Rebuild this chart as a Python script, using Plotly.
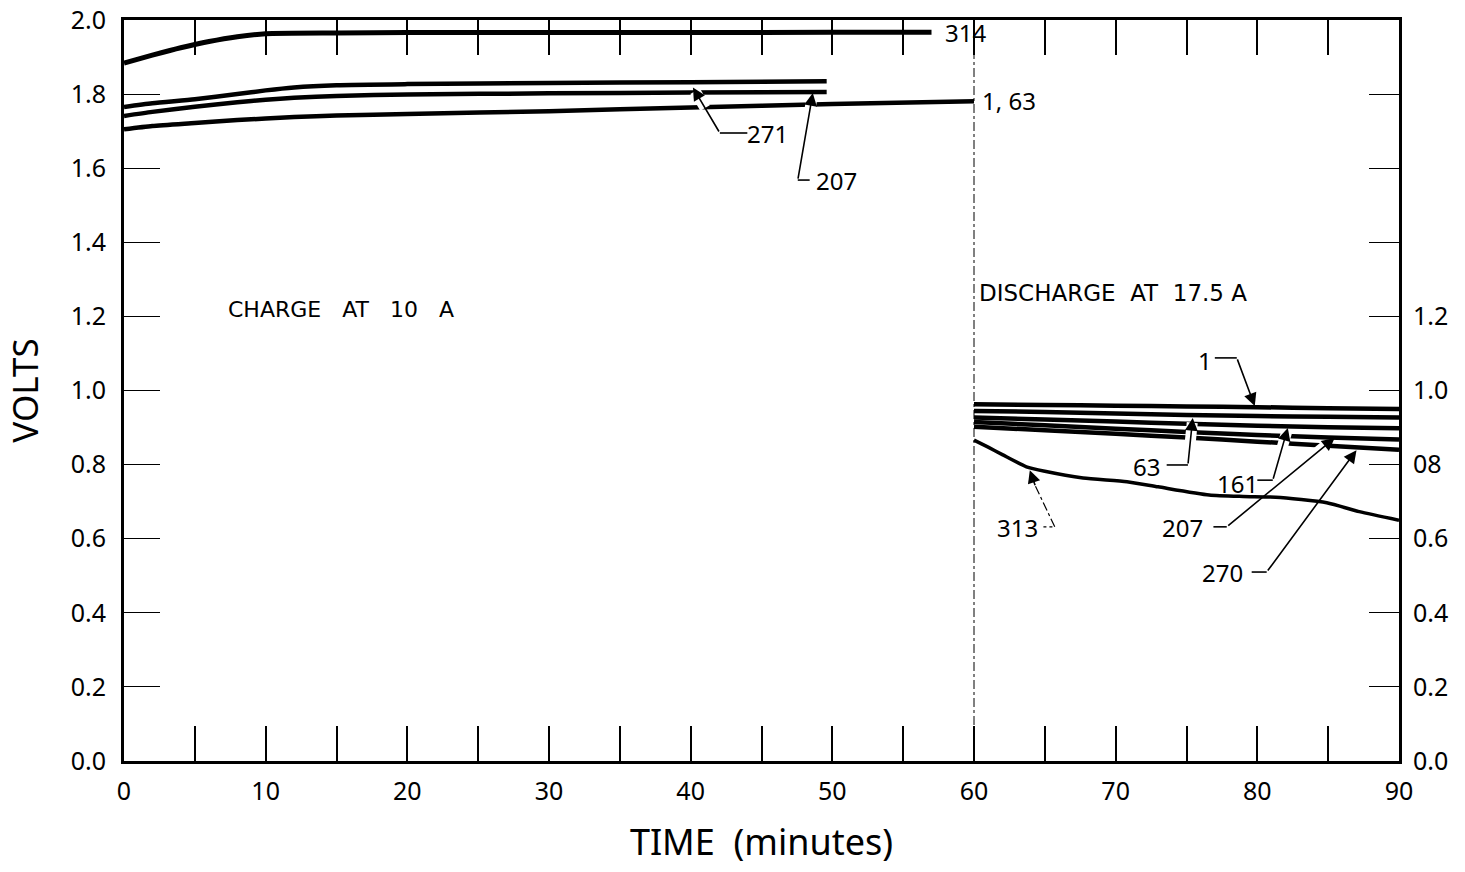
import plotly.graph_objects as go

# ---- Charge at 10 A (minutes, volts) ----
t_314 = [0, 2, 4, 6, 8, 10, 15, 20, 30, 40, 50, 57]
v_314 = [1.884, 1.905, 1.925, 1.942, 1.955, 1.963, 1.965, 1.966, 1.966, 1.966, 1.967, 1.967]

t_271 = [0, 2, 5, 8, 10, 12, 15, 20, 30, 40, 49.6]
v_271 = [1.765, 1.775, 1.786, 1.800, 1.810, 1.818, 1.824, 1.827, 1.830, 1.832, 1.835]

t_207c = [0, 2, 5, 8, 10, 12, 15, 20, 30, 40, 49.6]
v_207c = [1.741, 1.752, 1.766, 1.778, 1.785, 1.790, 1.795, 1.799, 1.802, 1.804, 1.806]

t_1_63 = [0, 2, 5, 8, 10, 12, 15, 20, 30, 40, 50, 60]
v_1_63 = [1.705, 1.714, 1.722, 1.730, 1.734, 1.738, 1.742, 1.746, 1.754, 1.764, 1.773, 1.781]

# ---- Discharge at 17.5 A ----
t_dis = [60, 65, 70, 75, 80, 85, 90]
v_1 = [0.963, 0.961, 0.959, 0.957, 0.955, 0.952, 0.950]
v_63 = [0.945, 0.942, 0.938, 0.934, 0.931, 0.929, 0.927]
v_161 = [0.927, 0.922, 0.916, 0.910, 0.905, 0.901, 0.898]
v_207d = [0.915, 0.906, 0.897, 0.888, 0.880, 0.873, 0.868]
v_270 = [0.902, 0.893, 0.883, 0.873, 0.862, 0.851, 0.840]

t_313 = [60, 61, 62, 63.7, 65, 67.7, 70.8, 73, 76.6, 79, 81.3, 84.9, 87.2, 90]
v_313 = [0.866, 0.847, 0.827, 0.794, 0.782, 0.764, 0.754, 0.740, 0.718, 0.714, 0.712, 0.697, 0.673, 0.650]

x_ticks = [0, 10, 20, 30, 40, 50, 60, 70, 80, 90]
y_ticks = [0.0, 0.2, 0.4, 0.6, 0.8, 1.0, 1.2, 1.4, 1.6, 1.8, 2.0]
y_left_text = ["0.0", "0.2", "0.4", "0.6", "0.8", "1.0", "1.2", "1.4", "1.6", "1.8", "2.0"]
y_right_text = ["0.0", "0.2", "0.4", "0.6", "08", "1.0", "1.2", "", "", "", ""]

FONT = "Noto Sans"
CAPTION_FONT = "DejaVu Sans"
INK = "black"

fig = go.Figure()

def curve(t, v, width, smooth=True):
    fig.add_trace(go.Scatter(
        x=t, y=v, mode="lines",
        line=dict(color=INK, width=width, shape="spline" if smooth else "linear",
                  smoothing=0.6),
        showlegend=False, hoverinfo="skip"))

curve(t_314, v_314, 5)
curve(t_271, v_271, 4.5)
curve(t_207c, v_207c, 4.5)
curve(t_1_63, v_1_63, 4.5)
curve(t_dis, v_1, 4.5)
curve(t_dis, v_63, 4.5)
curve(t_dis, v_161, 4.5)
curve(t_dis, v_207d, 4.5)
curve(t_dis, v_270, 4.5)
curve(t_313, v_313, 3.5)

# invisible anchor so the right-hand volt scale is laid out
fig.add_trace(go.Scatter(x=[0, 90], y=[0, 2.0], yaxis="y2", mode="markers",
                         marker=dict(opacity=0), showlegend=False, hoverinfo="skip"))

shapes = []
annotations = []

# charge / discharge boundary
shapes.append(dict(type="line", xref="x", yref="y", x0=60, x1=60, y0=0, y1=2.0,
                   line=dict(color=INK, width=1, dash="dashdot"), layer="above"))

# leaders: text, label (x, y), hook start x, kink (x, y), tip (x, y), halo fraction range
leaders = [
    ("271", (45.4, 1.695), 44.0, (42.06, 1.695), (40.16, 1.818), (0.55, 0.92)),
    ("207", (50.3, 1.568), 48.4, (47.56, 1.568), (48.62, 1.803), (0.70, 0.93)),
    ("1", (76.3, 1.082), 77.0, (78.55, 1.088), (79.82, 0.958), None),
    ("63", (72.2, 0.794), 73.6, (75.1, 0.799), (75.44, 0.926), (0.35, 0.90)),
    ("161", (78.6, 0.750), 80.0, (81.09, 0.758), (82.15, 0.899), (0.55, 0.92)),
    ("207", (74.7, 0.629), 76.9, (77.84, 0.632), (85.46, 0.872), (0.70, 0.93)),
    ("270", (77.56, 0.510), 79.6, (80.66, 0.510), (87.0, 0.839), None),
]

halo_shapes = []
ink_shapes = []
for text, (lx, ly), hx, (kx, ky), (tx, ty), halo in leaders:
    annotations.append(dict(x=lx, y=ly, xref="x", yref="y", text=text, showarrow=False,
                            font=dict(family=FONT, size=24, color=INK)))
    ink_shapes.append(dict(type="line", xref="x", yref="y", x0=hx, y0=ky, x1=kx, y1=ky,
                           line=dict(color=INK, width=1.6), layer="above"))
    if halo:
        f0, f1 = halo
        halo_shapes.append(dict(type="line", xref="x", yref="y",
                                x0=kx + (tx - kx) * f0, y0=ky + (ty - ky) * f0,
                                x1=kx + (tx - kx) * f1, y1=ky + (ty - ky) * f1,
                                line=dict(color="white", width=11), layer="above"))
    annotations.append(dict(x=tx, y=ty, ax=kx, ay=ky, xref="x", yref="y",
                            axref="x", ayref="y", text="", showarrow=True,
                            arrowhead=2, arrowsize=1.6, arrowwidth=1.6, arrowcolor=INK))

shapes += halo_shapes + ink_shapes

# 313: dash-dot leader with an arrowhead at the curve
annotations.append(dict(x=63.1, y=0.629, xref="x", yref="y", text="313", showarrow=False,
                        font=dict(family=FONT, size=24, color=INK)))
shapes.append(dict(type="line", xref="x", yref="y", x0=64.9, y0=0.632, x1=65.7, y1=0.632,
                   line=dict(color=INK, width=1.2, dash="dot"), layer="above"))
shapes.append(dict(type="line", xref="x", yref="y", x0=65.7, y0=0.632, x1=64.3, y1=0.745,
                   line=dict(color=INK, width=1.2, dash="dashdot"), layer="above"))
annotations.append(dict(x=63.94, y=0.785, ax=64.35, ay=0.74, xref="x", yref="y",
                        axref="x", ayref="y", text="", showarrow=True,
                        arrowhead=2, arrowsize=1.6, arrowwidth=1.6, arrowcolor=INK))

# end-of-line curve labels
annotations.append(dict(x=57.8, y=1.965, xref="x", yref="y", text="314", showarrow=False,
                        xanchor="left", font=dict(family=FONT, size=24, color=INK)))
annotations.append(dict(x=60.4, y=1.784, xref="x", yref="y", text="1, 63", showarrow=False,
                        xanchor="left", font=dict(family=FONT, size=24, color=INK)))

# phase captions
annotations.append(dict(x=7.2, y=1.218, xref="x", yref="y", text="CHARGE   AT   10   A",
                        showarrow=False, xanchor="left",
                        font=dict(family=CAPTION_FONT, size=22, color=INK)))
annotations.append(dict(x=60.2, y=1.262, xref="x", yref="y", text="DISCHARGE  AT  17.5 A",
                        showarrow=False, xanchor="left",
                        font=dict(family=CAPTION_FONT, size=23, color=INK)))

fig.update_layout(
    width=1465, height=872,
    margin=dict(l=124, r=66, t=20, b=111),
    paper_bgcolor="white", plot_bgcolor="white",
    font=dict(family=FONT, color=INK),
    shapes=shapes, annotations=annotations,
    xaxis=dict(
        range=[0, 90], tickvals=x_ticks, ticks="inside", ticklen=35, tickwidth=1.5,
        tickcolor=INK, minor=dict(ticks="inside", ticklen=18, tickwidth=1.5,
                                  tickcolor=INK, dtick=5, tick0=0),
        showline=True, linecolor=INK, linewidth=3, mirror="allticks",
        showgrid=False, zeroline=False, automargin=False,
        tickfont=dict(family=FONT, size=25, color=INK), ticklabelstandoff=6,
        title=dict(text="TIME  (minutes)", font=dict(family=FONT, size=36, color=INK),
                   standoff=24),
    ),
    yaxis=dict(
        range=[0, 2.0], tickvals=y_ticks, ticktext=y_left_text, ticks="inside",
        ticklen=36, tickwidth=1.3, tickcolor=INK,
        showline=True, linecolor=INK, linewidth=3, mirror=False,
        showgrid=False, zeroline=False, automargin=False,
        tickfont=dict(family=FONT, size=25, color=INK), ticklabelstandoff=10,
        title=dict(text="VOLTS", font=dict(family=FONT, size=35, color=INK), standoff=22),
    ),
    yaxis2=dict(
        range=[0, 2.0], overlaying="y", side="right", tickvals=y_ticks,
        ticktext=y_right_text, ticks="inside", ticklen=30, tickwidth=1.3,
        tickcolor=INK, showline=True, linecolor=INK, linewidth=3,
        showgrid=False, zeroline=False, automargin=False,
        tickfont=dict(family=FONT, size=25, color=INK), ticklabelstandoff=6,
    ),
)

fig.write_html("out.html")
